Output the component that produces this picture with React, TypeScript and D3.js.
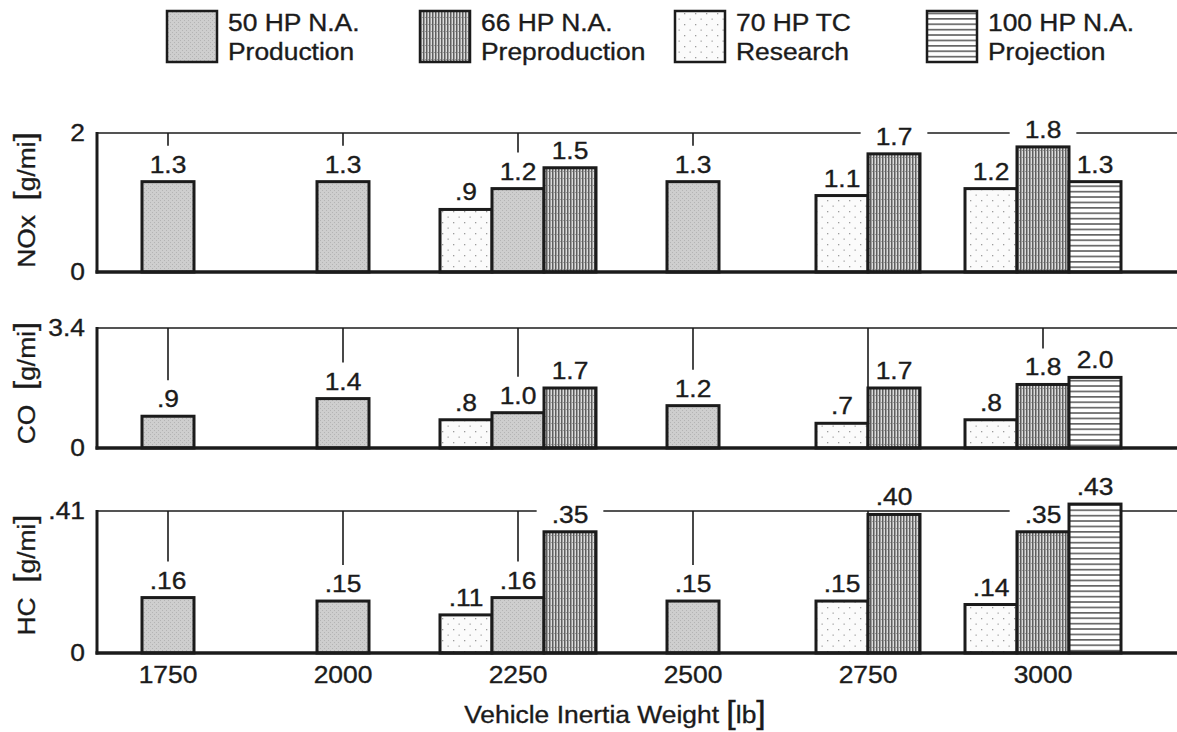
import React from "react";
import * as d3 from "d3";

// ---------- data ----------
const weights = [1750, 2000, 2250, 2500, 2750, 3000];

const seriesKeys = ["research", "production", "preproduction", "projection"];
const legendLine1 = ["50 HP N.A.", "66 HP N.A.", "70 HP TC", "100 HP N.A."];
const legendLine2 = ["Production", "Preproduction", "Research", "Projection"];
const legendSeries = ["production", "preproduction", "research", "projection"];

const noxResearch = [null, null, 0.9, null, 1.1, 1.2];
const noxProduction = [1.3, 1.3, 1.2, 1.3, null, null];
const noxPreproduction = [null, null, 1.5, null, 1.7, 1.8];
const noxProjection = [null, null, null, null, null, 1.3];

const coResearch = [null, null, 0.8, null, 0.7, 0.8];
const coProduction = [0.9, 1.4, 1.0, 1.2, null, null];
const coPreproduction = [null, null, 1.7, null, 1.7, 1.8];
const coProjection = [null, null, null, null, null, 2.0];

const hcResearch = [null, null, 0.11, null, 0.15, 0.14];
const hcProduction = [0.16, 0.15, 0.16, 0.15, null, null];
const hcPreproduction = [null, null, 0.35, null, 0.4, 0.35];
const hcProjection = [null, null, null, null, null, 0.43];

const noxTicks = [0, 2];
const coTicks = [0, 3.4];
const hcTicks = [0, 0.41];

const xTitle = "Vehicle Inertia Weight ";
const xUnit = "lb";

// ---------- layout ----------
const W = 1177;
const H = 732;
const FONT = "'Liberation Sans', Arial, Helvetica, sans-serif";
const INK = "#1b1b1b";
const SX = 1.1; // horizontal text stretch
const FS = 24;
const AXIS_X = 97;
const BAR_W = 52;

const panels = [
  { name: "NOx", unit: "g/mi", top: 133, base: 272, titleY: 200, ticks: noxTicks, dec: 1,
    data: { research: noxResearch, production: noxProduction, preproduction: noxPreproduction, projection: noxProjection } },
  { name: "CO", unit: "g/mi", top: 328, base: 448, titleY: 383, ticks: coTicks, dec: 1,
    data: { research: coResearch, production: coProduction, preproduction: coPreproduction, projection: coProjection } },
  { name: "HC", unit: "g/mi", top: 511, base: 653, titleY: 575, ticks: hcTicks, dec: 2,
    data: { research: hcResearch, production: hcProduction, preproduction: hcPreproduction, projection: hcProjection } },
];

const legendX = [167, 420, 675, 927];

const x = d3.scaleLinear().domain([1750, 3000]).range([168, 1043]);

const strip0 = (s: string) => s.replace(/^0\./, ".");
const fmtVal = (v: number, dec: number) => strip0(d3.format(`.${dec}f`)(v));
const fmtTick = (v: number) => (v === 0 ? "0" : strip0(String(v)));

const textWidth = (s: string) => {
  let w = 0;
  for (const c of s) w += c === "." ? 0.278 : 0.556;
  return w * FS * SX;
};

const T = ({ x, y, anchor = "middle", size = FS, rotate = 0, children }: any) => (
  <text
    transform={`translate(${x},${y})${rotate ? ` rotate(${rotate})` : ""} scale(${SX},1)`}
    textAnchor={anchor}
    fontFamily={FONT}
    fontSize={size}
    fill={INK}
    stroke={INK}
    strokeWidth={0.35}
  >
    {children}
  </text>
);

const fillFor: Record<string, string> = {
  production: "url(#pProd)",
  preproduction: "url(#pPre)",
  research: "url(#pRes)",
  projection: "url(#pProj)",
};

function Panel({ p }: { p: any }) {
  const y = d3.scaleLinear().domain([0, p.ticks[1]]).range([p.base, p.top]);
  const bars: any[] = [];
  weights.forEach((wgt, i) => {
    const present = seriesKeys.filter((k) => p.data[k][i] != null);
    const cx = x(wgt);
    present.forEach((k, j) => {
      const v = p.data[k][i];
      const x0 = cx - (present.length * BAR_W) / 2 + j * BAR_W;
      const yt = y(v);
      const label = fmtVal(v, p.dec);
      const lw = textWidth(label);
      const baseline = yt - 9;
      const lx = x0 + BAR_W / 2;
      bars.push({
        k, i, v, x0, yt, label, lw, lx, baseline, capTop: baseline - 17,
        bx0: lx - lw / 2 - 15, bx1: lx + lw / 2 + 15, by0: baseline - 21, by1: baseline + 4,
      });
    });
  });

  const ticks = weights.map((wgt, i) => {
    const cx = x(wgt);
    const blocked = bars.some((b) => cx >= b.bx0 && cx <= b.bx1 && p.top >= b.by0 && p.top <= b.by1);
    const covering = bars.filter((b) => b.i === i && Math.abs(b.lx - cx) < b.lw / 2 + 2);
    const end = covering.length ? Math.min(...covering.map((b) => b.capTop - 10)) : p.base;
    return { cx, end, blocked };
  });

  return (
    <g>
      <line x1={AXIS_X} x2={W} y1={p.top} y2={p.top} stroke={INK} strokeWidth={1.6} />
      {bars.map((b, i) => (
        <rect key={"bg" + i} x={b.bx0} y={b.by0} width={b.bx1 - b.bx0} height={b.by1 - b.by0} fill="#fff" />
      ))}
      {ticks.map((t, i) =>
        t.end > p.top && !t.blocked ? (
          <line key={i} x1={t.cx} x2={t.cx} y1={p.top} y2={t.end} stroke={INK} strokeWidth={1.6} />
        ) : null
      )}
      {bars.map((b, i) => (
        <rect
          key={"b" + i}
          x={b.x0}
          y={b.yt}
          width={BAR_W}
          height={p.base - b.yt}
          fill={fillFor[b.k]}
          stroke={INK}
          strokeWidth={3}
        />
      ))}
      <line x1={AXIS_X} x2={AXIS_X} y1={p.top - 1} y2={p.base + 1.5} stroke={INK} strokeWidth={3} />
      <line x1={AXIS_X - 1.5} x2={W} y1={p.base} y2={p.base} stroke={INK} strokeWidth={3.5} />
      {bars.map((b, i) => (
        <T key={"t" + i} x={b.lx} y={b.baseline}>
          {b.label}
        </T>
      ))}
      {p.ticks.map((t: number, i: number) => (
        <T key={"yt" + i} x={85} y={y(t) + 8} anchor="end">
          {fmtTick(t)}
        </T>
      ))}
      <T x={35} y={p.titleY} rotate={-90}>
        {p.name + "\u00a0 "}
        <tspan fontSize={30}>[</tspan>
        {p.unit}
        <tspan fontSize={30}>]</tspan>
      </T>
    </g>
  );
}

export default function App() {
  return (
    <svg
      width={W}
      height={H}
      viewBox={`0 0 ${W} ${H}`}
      style={{ position: "absolute", left: 0, top: 0, background: "#fff" }}
    >
      <defs>
        <pattern id="pProd" width={4} height={4} patternUnits="userSpaceOnUse">
          <rect width={4} height={4} fill="#cecece" />
          <rect x={0} y={0} width={1} height={1} fill="#b4b4b4" />
          <rect x={2} y={2} width={1} height={1} fill="#b4b4b4" />
        </pattern>
        <pattern id="pPre" width={3} height={7} patternUnits="userSpaceOnUse">
          <rect width={3} height={7} fill="#dcdcdc" />
          <rect x={0} y={0} width={1.5} height={7} fill="#5e5e5e" />
          <rect x={2} y={3} width={1} height={1} fill="#9a9a9a" />
        </pattern>
        <pattern id="pRes" width={11} height={11} patternUnits="userSpaceOnUse">
          <rect width={11} height={11} fill="#fbfbfb" />
          <rect x={2} y={2} width={1.3} height={1.3} fill="#9c9c9c" />
          <rect x={7.5} y={7.5} width={1.3} height={1.3} fill="#a8a8a8" />
        </pattern>
        <pattern id="pProj" width={6} height={5.4} patternUnits="userSpaceOnUse">
          <rect width={6} height={5.4} fill="#fff" />
          <rect x={0} y={2} width={6} height={1.3} fill="#3a3a3a" />
        </pattern>
      </defs>

      {legendSeries.map((k, i) => (
        <g key={k}>
          <rect x={legendX[i]} y={11} width={50} height={51} fill={fillFor[k]} stroke={INK} strokeWidth={2.5} />
          <T x={legendX[i] + 61} y={31} anchor="start">
            {legendLine1[i]}
          </T>
          <T x={legendX[i] + 61} y={60} anchor="start">
            {legendLine2[i]}
          </T>
        </g>
      ))}

      {panels.map((p) => (
        <Panel key={p.name} p={p} />
      ))}

      {weights.map((w) => (
        <T key={w} x={x(w)} y={683}>
          {String(w)}
        </T>
      ))}
      <T x={615} y={723}>
        {xTitle}
        <tspan fontSize={31}>[</tspan>
        {xUnit}
        <tspan fontSize={31}>]</tspan>
      </T>
    </svg>
  );
}
